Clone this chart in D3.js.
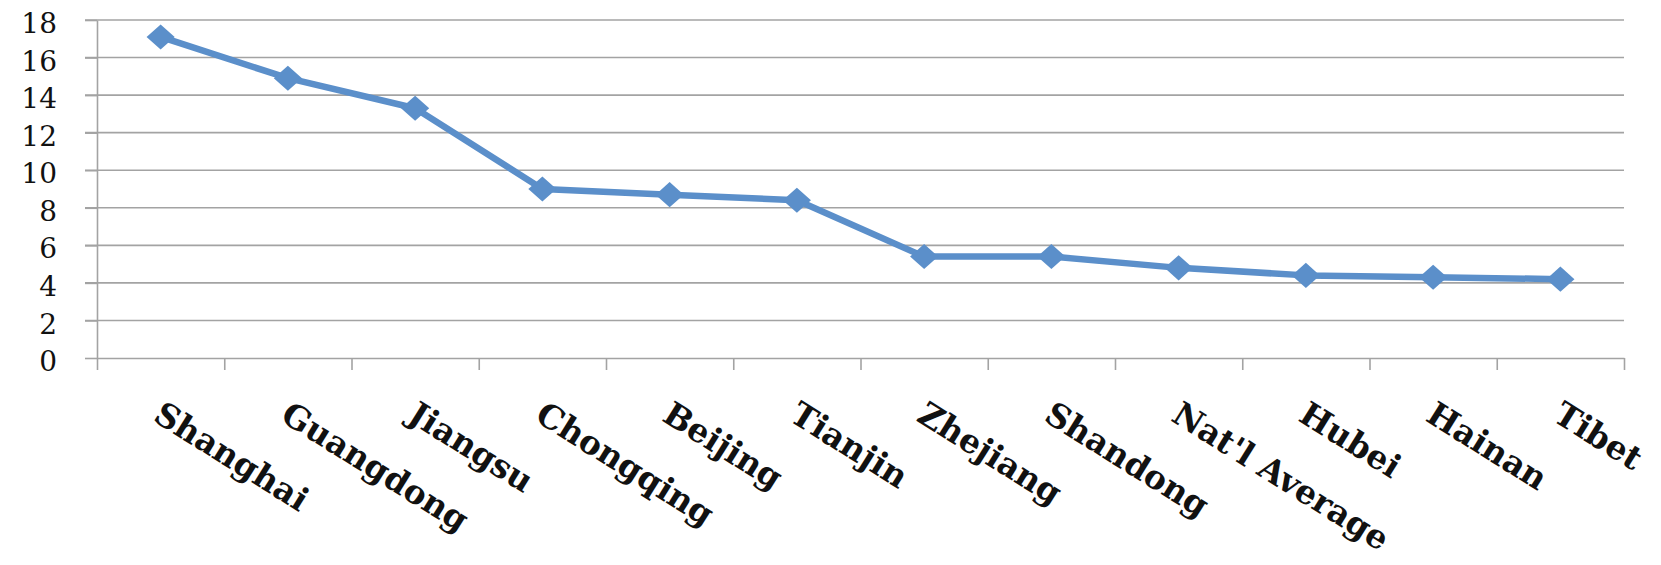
<!DOCTYPE html>
<html>
<head>
    <meta charset="UTF-8">
    <title>Line chart</title>
    <script src="https://cdn.jsdelivr.net/npm/d3@7"></script>
    <style>
        body { margin: 0; background: #fff; }
        .grid line { stroke: #a3a3a3; stroke-width: 1.6; }
        .axis path, .axis line { stroke: #a3a3a3; stroke-width: 1.6; }
        .ylab { font-family: "DejaVu Serif", serif; font-size: 28px; fill: #111; }
        .xlab { font-family: "DejaVu Serif", serif; font-weight: bold; font-size: 33px; fill: #111; }
    </style>
</head>
<body>
<svg id="chart" width="1661" height="565"></svg>
<script>
    var categories = ["Shanghai", "Guangdong", "Jiangsu", "Chongqing", "Beijing", "Tianjin",
                      "Zhejiang", "Shandong", "Nat'l Average", "Hubei", "Hainan", "Tibet"];
    var values = [17.1, 14.9, 13.3, 9.0, 8.7, 8.4, 5.4, 5.4, 4.8, 4.4, 4.3, 4.2];
    var yTicks = [0, 2, 4, 6, 8, 10, 12, 14, 16, 18];

    var W = 1661, H = 565;
    var margin = {top: 20, right: 37, bottom: 207, left: 97};
    var width = W - margin.left - margin.right;
    var height = H - margin.top - margin.bottom;
    var blue = "#5b8fca";

    var svg = d3.select("#chart");
    var g = svg.append("g").attr("transform", "translate(" + margin.left + "," + margin.top + ")");

    var x = d3.scaleBand().domain(categories).range([0, width]).padding(0);
    var xIdx = d3.scaleLinear().domain([0, categories.length]).range([0, width]);
    var y = d3.scaleLinear().domain([0, 18]).range([height, 0]);

    // gridlines (with the little outside tick on the left)
    g.append("g").attr("class", "grid")
        .selectAll("line").data(yTicks.filter(function(d){ return d > 0; }))
        .enter().append("line")
        .attr("x1", -12).attr("x2", width)
        .attr("y1", function(d){ return y(d); })
        .attr("y2", function(d){ return y(d); });

    // y axis
    g.append("g").attr("class", "axis")
        .call(d3.axisLeft(y).tickValues(yTicks).tickSize(12).tickSizeOuter(0).tickFormat(""));
    g.selectAll(".ylab").data(yTicks).enter().append("text")
        .attr("class", "ylab")
        .attr("x", -40)
        .attr("y", function(d){ return y(d) + 3; })
        .attr("dy", "0.36em")
        .attr("text-anchor", "end")
        .text(function(d){ return d; });

    // x axis, ticks between categories
    g.append("g").attr("class", "axis")
        .attr("transform", "translate(0," + height + ")")
        .call(d3.axisBottom(xIdx).tickValues(d3.range(categories.length + 1))
            .tickSize(12).tickSizeOuter(0).tickFormat(""));

    g.selectAll(".xlab").data(categories).enter().append("text")
        .attr("class", "xlab")
        .attr("transform", function(d){
            var cx = x(d) + x.bandwidth() / 2 - 9;
            return "translate(" + cx + "," + (height + 62) + ") rotate(32)";
        })
        .text(function(d){ return d; });

    // the line
    var line = d3.line()
        .x(function(d, i){ return x(categories[i]) + x.bandwidth() / 2; })
        .y(function(d){ return y(d); });

    g.append("path").datum(values)
        .attr("d", line)
        .attr("fill", "none")
        .attr("stroke", blue)
        .attr("stroke-width", 6.5)
        .attr("stroke-linejoin", "round");

    var diamond = d3.symbol().type(d3.symbolSquare).size(340);
    g.selectAll(".mark").data(values).enter().append("path")
        .attr("class", "mark")
        .attr("d", diamond)
        .attr("fill", blue)
        .attr("transform", function(d, i){
            return "translate(" + (x(categories[i]) + x.bandwidth() / 2) + "," + y(d) + ") scale(1.08,0.96) rotate(45)";
        });
</script>
</body>
</html>
